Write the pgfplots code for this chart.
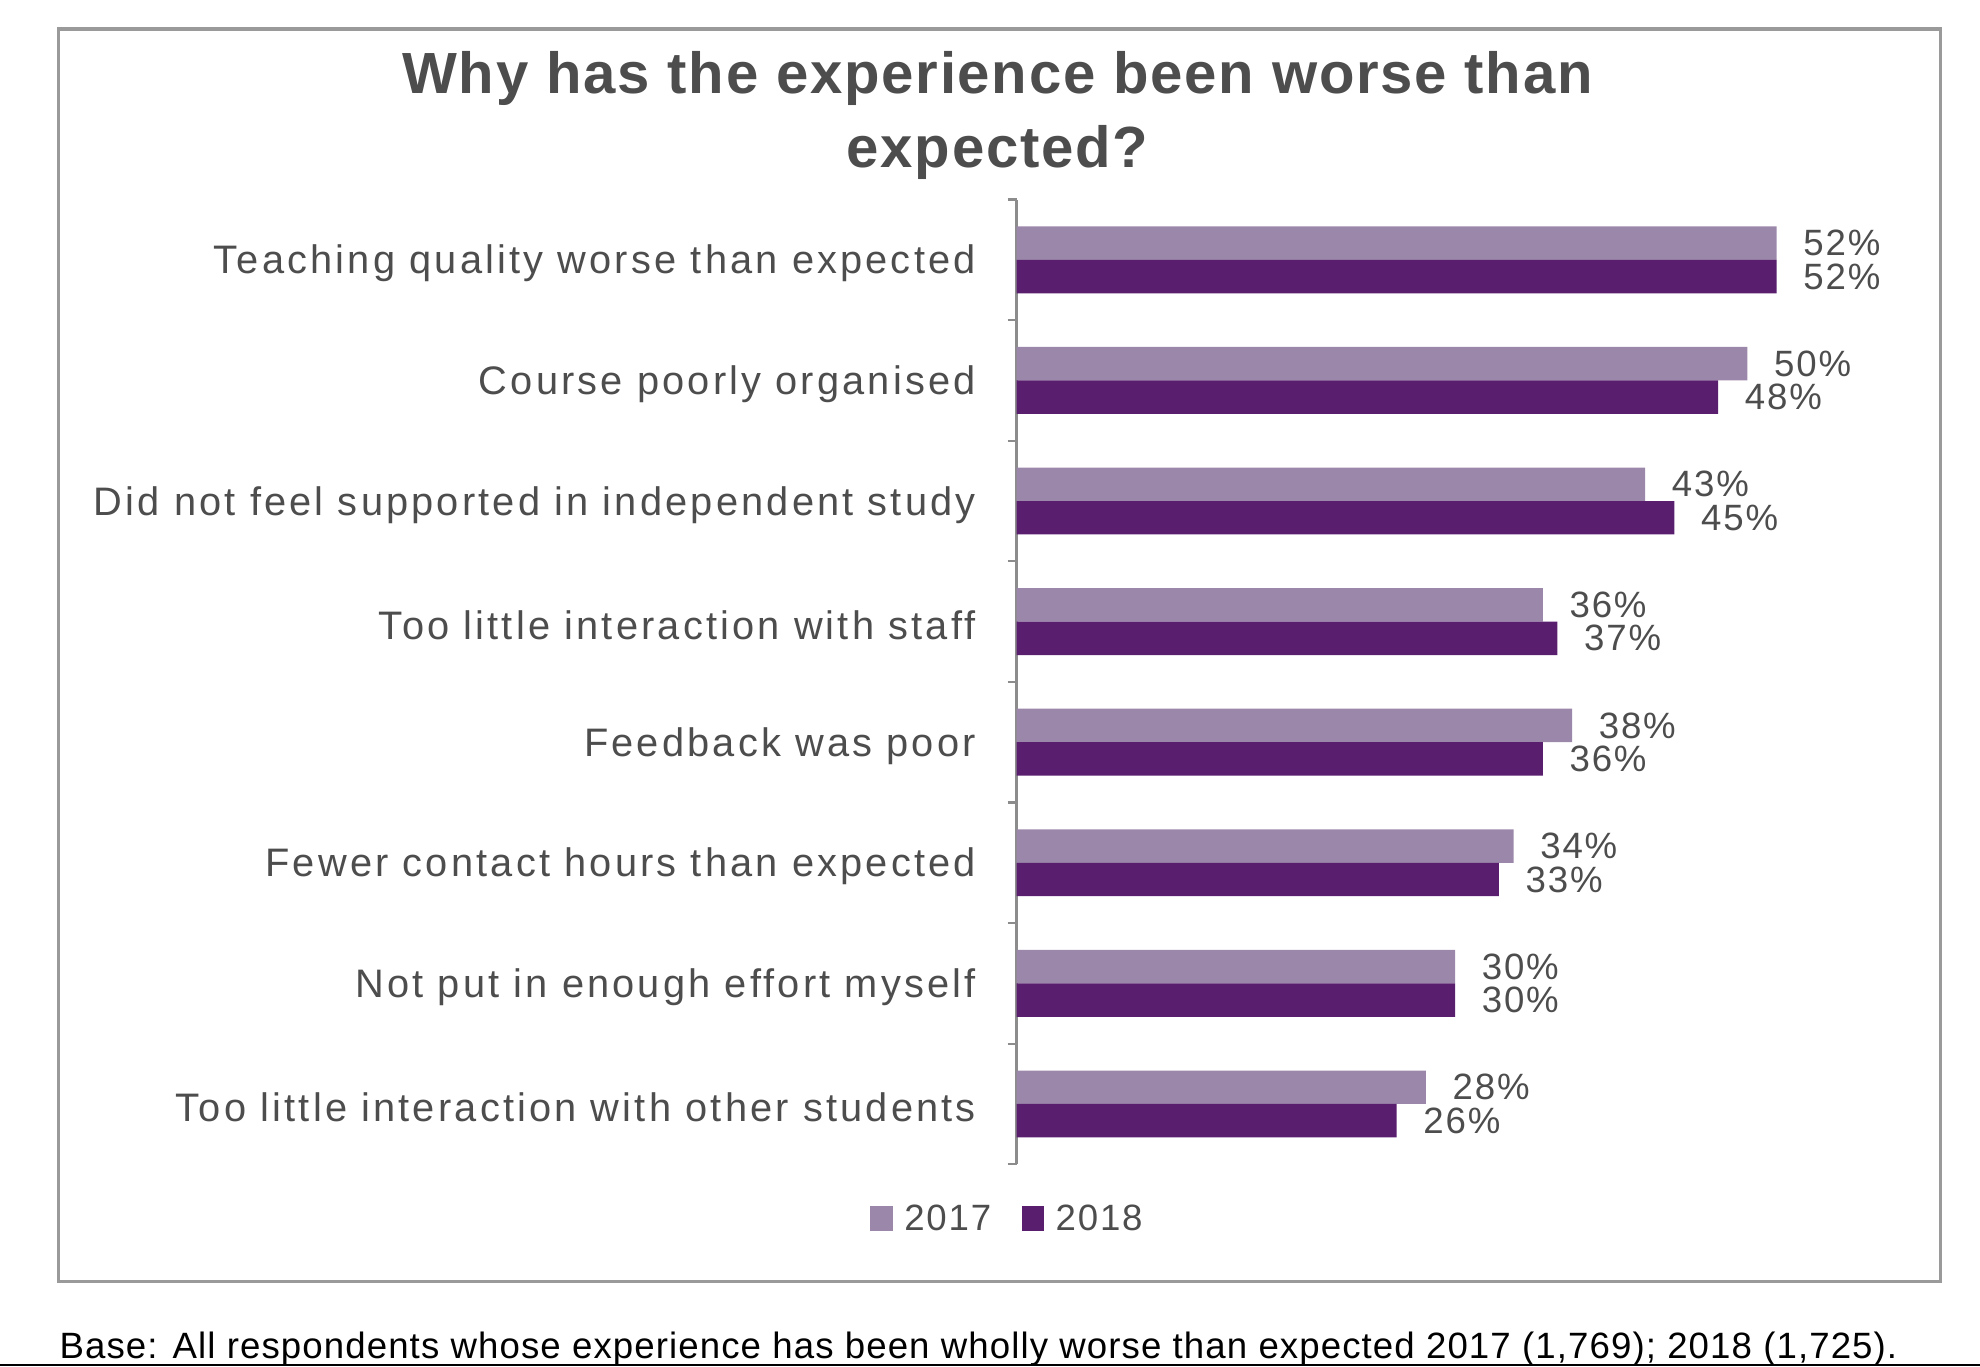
\documentclass[border=0pt]{standalone}
\usepackage{pgfplots}
\pgfplotsset{compat=1.18}
\usepackage{fontspec}
\setmainfont{Liberation Sans}
\newfontfamily\lblfont{Liberation Sans}[LetterSpace=8]
\newfontfamily\valfont{Liberation Sans}[LetterSpace=5]
\newfontfamily\ttlfont{Liberation Sans}[LetterSpace=3]
\newfontfamily\ftfont{Liberation Sans}[LetterSpace=3]
\definecolor{c17}{HTML}{9B87AA}
\definecolor{c18}{HTML}{591E6E}
\definecolor{txt}{HTML}{4D4D4D}
\definecolor{framegray}{HTML}{9A9A9A}
\definecolor{axisgray}{HTML}{8C8C8C}
\begin{document}
\begin{tikzpicture}[x=1pt,y=1pt]
\draw[framegray, line width=2.5pt] (46,67) rectangle (1537,1059);
\node[anchor=base, text=txt, inner sep=0pt, font=\ttlfont\bfseries\fontsize{46}{55}\selectfont] at (790,1008) {Why has the experience been worse than};
\node[anchor=base, text=txt, inner sep=0pt, font=\ttlfont\bfseries\fontsize{46}{55}\selectfont] at (790,949) {expected?};
\begin{axis}[
  at={(805pt,160pt)}, anchor=south west,
  scale only axis, width=602pt, height=764pt,
  xbar, bar width=26.5pt,
  xmin=0, xmax=52, ymin=-0.5, ymax=7.5,
  axis x line=none, axis y line*=left,
  y axis line style={draw=axisgray, line width=1.8pt},
  ytick={0,...,7},
  yticklabels={Too little interaction with other students, Not put in enough effort myself, Fewer contact hours than expected, Feedback was poor, Too little interaction with staff, Did not feel supported in independent study, Course poorly organised, Teaching quality worse than expected},
  tick align=outside,
  major tick length=0pt,
  extra y ticks={-0.5,0.5,...,7.5},
  extra y tick labels={},
  extra y tick style={major tick length=7pt, tick style={draw=axisgray, line width=1.8pt}},
  yticklabel style={font=\lblfont\fontsize{31.5}{37}\selectfont, text=txt, inner sep=0pt, anchor=east, xshift=-32pt, yshift=-3pt},
  nodes near coords={\pgfmathprintnumber{\pgfplotspointmeta}\%},
  nodes near coords style={font=\valfont\fontsize{29}{35}\selectfont, text=txt, anchor=west, inner sep=0pt, xshift=21pt},
  /pgf/number format/assume math mode=true,
  clip=false,
  legend columns=2,
  legend image code/.code={\fill[#1] (0pt,-10pt) rectangle (18pt,10pt); \path (25pt,0pt);},
  legend style={at={(axis description cs:-0.0116,-0.0563)}, anchor=center, draw=none, fill=none,
    font=\valfont\fontsize{29}{35}\selectfont, text=txt,
    /tikz/every even column/.append style={column sep=22pt}},
]
\addplot[fill=c17, draw=none, bar shift=13.25pt] coordinates {(28,0) (30,1) (34,2) (38,3) (36,4) (43,5) (50,6) (52,7)};
\addplot[fill=c18, draw=none, bar shift=-13.25pt] coordinates {(26,0) (30,1) (33,2) (36,3) (37,4) (45,5) (48,6) (52,7)};
\legend{2017,2018}
\end{axis}
\node[anchor=base west, inner sep=0pt, font=\ftfont\fontsize{29}{34}\selectfont] at (47,6) {Base: All respondents whose experience has been wholly worse than expected 2017 (1,769); 2018 (1,725).};
\fill[black] (0,0) rectangle (1568,2);
\pgfresetboundingbox
\path[use as bounding box] (0,0) rectangle (1568,1082);
\end{tikzpicture}
\end{document}
